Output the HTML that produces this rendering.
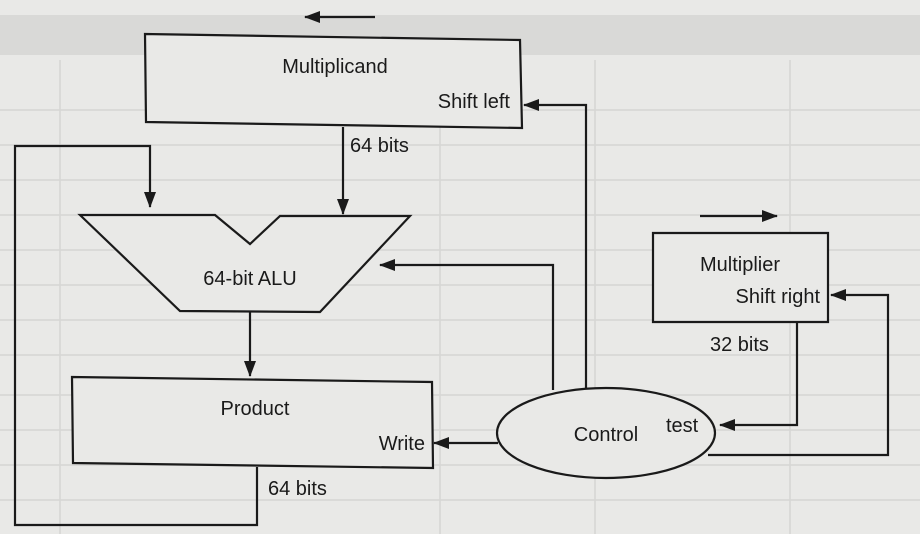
<!DOCTYPE html>
<html><head><style>
body{margin:0;width:920px;height:534px;background:#e9e9e7;overflow:hidden}
svg{display:block}
text{font-family:"Liberation Sans",sans-serif;font-size:20px;fill:#1a1a1a}
</style></head><body>
<svg width="920" height="534" viewBox="0 0 920 534">
<defs>
<marker id="b" markerWidth="16" markerHeight="12" refX="15" refY="6" orient="auto" markerUnits="userSpaceOnUse"><path d="M0,0 L16,6 L0,12 z" fill="#1a1a1a"/></marker></defs>
<rect x="0" y="15" width="920" height="40" fill="#d9d9d7"/>
<g stroke="#d6d6d4" stroke-width="1.5" fill="none">
<line x1="0" y1="110" x2="920" y2="110"/><line x1="0" y1="145" x2="920" y2="145"/><line x1="0" y1="180" x2="920" y2="180"/><line x1="0" y1="215" x2="920" y2="215"/><line x1="0" y1="250" x2="920" y2="250"/><line x1="0" y1="285" x2="920" y2="285"/><line x1="0" y1="320" x2="920" y2="320"/><line x1="0" y1="355" x2="920" y2="355"/><line x1="0" y1="395" x2="920" y2="395"/><line x1="0" y1="430" x2="920" y2="430"/><line x1="0" y1="465" x2="920" y2="465"/><line x1="0" y1="500" x2="920" y2="500"/>
<line x1="60" y1="60" x2="60" y2="534"/><line x1="440" y1="60" x2="440" y2="534"/><line x1="595" y1="60" x2="595" y2="534"/><line x1="790" y1="60" x2="790" y2="534"/></g>
<g stroke="#1a1a1a" stroke-width="2.2" fill="none">
<line x1="375" y1="17" x2="305" y2="17" marker-end="url(#b)"/>
<line x1="700" y1="216" x2="777" y2="216" marker-end="url(#b)"/>
<polygon points="145,34 520,40 522,128 146,122" fill="#e9e9e7"/>
<polygon points="80,215 215,215 250,244 280,216 410,216 320,312 180,311" fill="#e9e9e7"/>
<polygon points="72,377 432,382 433,468 73,463" fill="#e9e9e7"/>
<polygon points="653,233 828,233 828,322 653,322" fill="#e9e9e7"/>
<ellipse cx="606" cy="433" rx="109" ry="45" fill="#e9e9e7"/>
<line x1="343" y1="127" x2="343" y2="214" marker-end="url(#b)"/>
<line x1="250" y1="312" x2="250" y2="376" marker-end="url(#b)"/>
<polyline points="257,467 257,525 15,525 15,146 150,146 150,207" marker-end="url(#b)"/>
<line x1="498" y1="443" x2="434" y2="443" marker-end="url(#b)"/>
<polyline points="553,390 553,265 380,265" marker-end="url(#b)"/>
<polyline points="586,388 586,105 524,105" marker-end="url(#b)"/>
<polyline points="797,322 797,425 720,425" marker-end="url(#b)"/>
<polyline points="708,455 888,455 888,295 831,295" marker-end="url(#b)"/>
</g>
<text x="335" y="73" text-anchor="middle">Multiplicand</text>
<text x="510" y="108" text-anchor="end">Shift left</text>
<text x="350" y="152">64 bits</text>
<text x="250" y="285" text-anchor="middle">64-bit ALU</text>
<text x="255" y="415" text-anchor="middle">Product</text>
<text x="425" y="450" text-anchor="end">Write</text>
<text x="268" y="495">64 bits</text>
<text x="606" y="441" text-anchor="middle">Control</text>
<text x="666" y="432">test</text>
<text x="740" y="271" text-anchor="middle">Multiplier</text>
<text x="820" y="303" text-anchor="end">Shift right</text>
<text x="710" y="351">32 bits</text>
</svg>
</body></html>
